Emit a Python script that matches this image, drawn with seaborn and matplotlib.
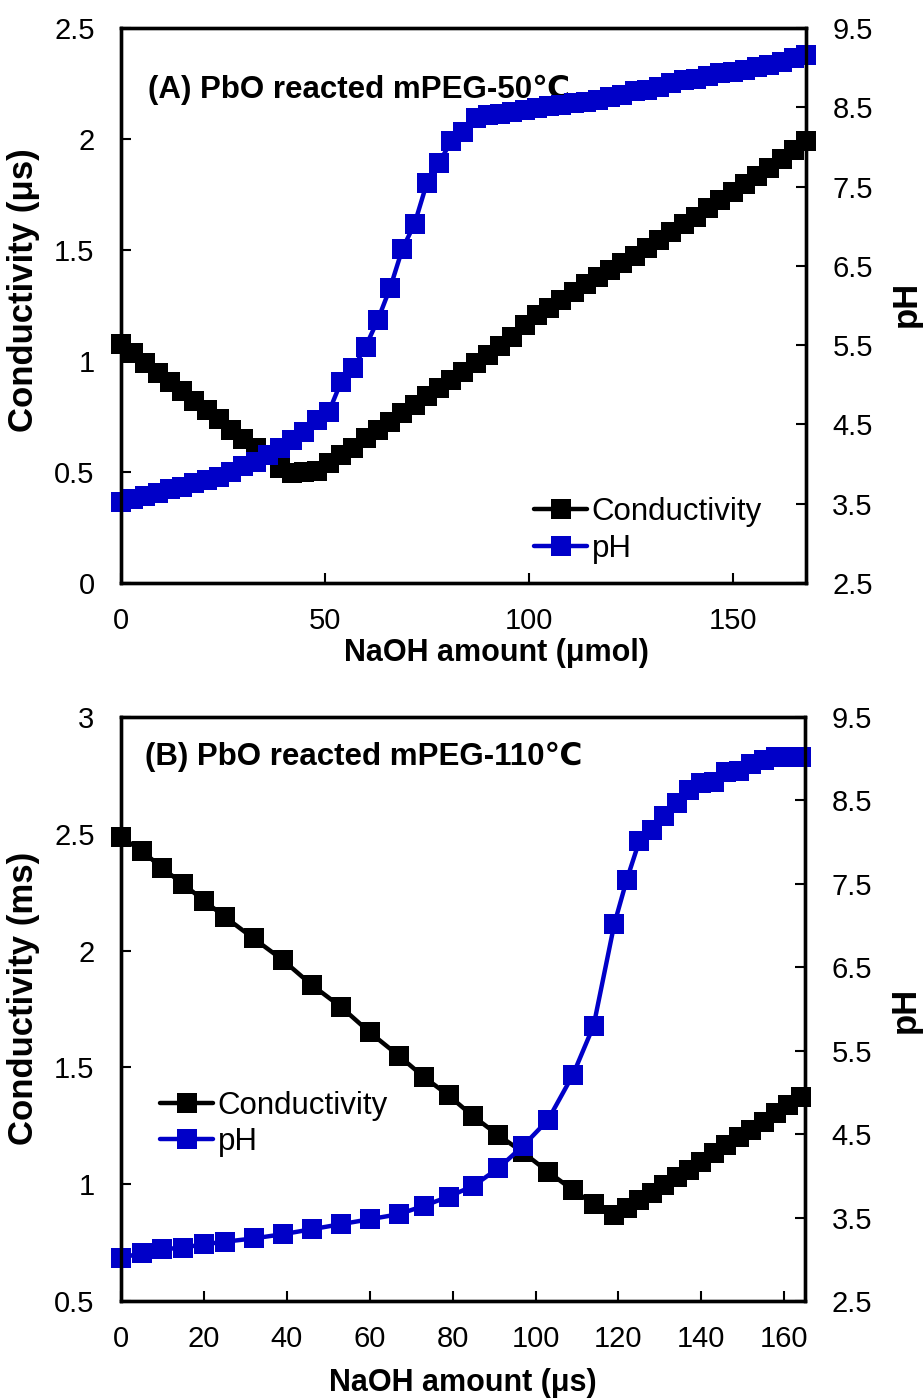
import matplotlib
matplotlib.use("Agg")
import matplotlib.pyplot as plt
import seaborn as sns
from matplotlib.ticker import FuncFormatter

# ---------------- data ----------------
# Panel A: PbO reacted mPEG-50C
naoh_a = [0, 3, 6, 9, 12, 15, 18, 21, 24, 27, 30, 33, 36, 39, 42, 45, 48, 51, 54, 57,
          60, 63, 66, 69, 72, 75, 78, 81, 84, 87, 90, 93, 96, 99, 102, 105, 108, 111, 114, 117,
          120, 123, 126, 129, 132, 135, 138, 141, 144, 147, 150, 153, 156, 159, 162, 165, 168]
cond_a = [1.077, 1.036, 0.99, 0.946, 0.905, 0.865, 0.82, 0.78, 0.74, 0.69,
          0.65, 0.61, 0.575, 0.52, 0.495, 0.50, 0.505, 0.54, 0.577, 0.61,
          0.655, 0.69, 0.725, 0.765, 0.80, 0.84, 0.88, 0.915, 0.95, 0.99,
          1.027, 1.067, 1.11, 1.16, 1.205, 1.24, 1.275, 1.31, 1.345, 1.38,
          1.41, 1.44, 1.475, 1.51, 1.545, 1.58, 1.615, 1.65, 1.69, 1.725,
          1.76, 1.795, 1.835, 1.87, 1.91, 1.95, 1.99]
ph_a = [3.52, 3.56, 3.60, 3.64, 3.68, 3.71, 3.76, 3.80, 3.84, 3.90,
        3.97, 4.03, 4.12, 4.20, 4.30, 4.40, 4.55, 4.66, 5.04, 5.21,
        5.48, 5.82, 6.22, 6.71, 7.03, 7.54, 7.80, 8.07, 8.19, 8.36,
        8.40, 8.42, 8.44, 8.47, 8.49, 8.51, 8.53, 8.55, 8.57, 8.59,
        8.63, 8.65, 8.70, 8.72, 8.76, 8.80, 8.84, 8.86, 8.90, 8.93,
        8.95, 8.97, 9.01, 9.03, 9.07, 9.12, 9.16]

# Panel B: PbO reacted mPEG-110C
naoh_b = [0, 5, 10, 15, 20, 25, 32, 39, 46, 53, 60, 67, 73, 79, 85, 91, 97, 103, 109, 114,
          119, 122, 125, 128, 131, 134, 137, 140, 143, 146, 149, 152, 155, 158, 161, 164]
cond_b = [2.485, 2.428, 2.352, 2.285, 2.214, 2.145, 2.052, 1.96, 1.853, 1.76,
          1.65, 1.55, 1.46, 1.38, 1.29, 1.21, 1.136, 1.053, 0.975, 0.915,
          0.868, 0.897, 0.932, 0.961, 0.997, 1.032, 1.061, 1.096, 1.132, 1.168,
          1.203, 1.232, 1.268, 1.303, 1.339, 1.375]
ph_b = [3.01, 3.08, 3.12, 3.14, 3.18, 3.21, 3.25, 3.30, 3.36, 3.42,
        3.48, 3.54, 3.64, 3.75, 3.88, 4.09, 4.36, 4.67, 5.21, 5.80,
        7.02, 7.55, 8.01, 8.15, 8.31, 8.47, 8.62, 8.71, 8.72, 8.84,
        8.85, 8.94, 8.98, 9.02, 9.02, 9.02]

xticks_a = [0, 50, 100, 150]
xticks_b = [0, 20, 40, 60, 80, 100, 120, 140, 160]
yticks_a = [0, 0.5, 1, 1.5, 2, 2.5]
yticks_b = [0.5, 1, 1.5, 2, 2.5, 3]
ph_ticks = [2.5, 3.5, 4.5, 5.5, 6.5, 7.5, 8.5, 9.5]

series_names = ["Conductivity", "pH"]
title_a = "(A) PbO reacted mPEG-50\u2103"
title_b = "(B) PbO reacted mPEG-110\u2103"
xlabel_a = "NaOH amount (\u03bcmol)"
xlabel_b = "NaOH amount (\u03bcs)"
ylabel_a = "Conductivity (\u03bcs)"
ylabel_b = "Conductivity (ms)"
ylabel_r = "pH"

# ---------------- style ----------------
sns.set_theme(style="white")
plt.rcParams["font.family"] = ["Liberation Sans", "DejaVu Sans"]
plt.rcParams["axes.linewidth"] = 2.4
plt.rcParams["axes.edgecolor"] = "black"
plt.rcParams["text.color"] = "black"
plt.rcParams["axes.labelcolor"] = "black"
plt.rcParams["xtick.color"] = "black"
plt.rcParams["ytick.color"] = "black"

BLUE = "#0000C8"
TICK_FS = 21
LAB_FS = 22
YLAB_FS = 25
TITLE_FS = 22.5
LEG_FS = 22.5
MS = 14
LW = 3.2

fmt = FuncFormatter(lambda v, p: "{:g}".format(v))

fig = plt.figure(figsize=(9.23, 13.98), dpi=100)
fig.patch.set_facecolor("white")


def make_panel(rect, x, cond, ph, xticks, yticks, xlim, ylim, title, title_pos,
               xlabel, xlabel_pos, ylabel, ylabel_y, ph_y, leg_anchor):
    ax = fig.add_axes(rect)
    ax2 = ax.twinx()
    sns.lineplot(x=x, y=cond, ax=ax, color="black", marker="s", markersize=MS,
                 markeredgewidth=0, linewidth=LW, clip_on=False, estimator=None)
    sns.lineplot(x=x, y=ph, ax=ax2, color=BLUE, marker="s", markersize=MS,
                 markeredgewidth=0, linewidth=LW, clip_on=False, estimator=None)
    ax.set_xlim(*xlim)
    ax.set_ylim(*ylim)
    ax2.set_ylim(2.5, 9.5)
    ax.set_xticks(xticks)
    ax.set_yticks(yticks)
    ax2.set_yticks(ph_ticks)
    for a in (ax, ax2):
        a.xaxis.set_major_formatter(fmt)
        a.yaxis.set_major_formatter(fmt)
        for s in a.spines.values():
            s.set_linewidth(2.4)
            s.set_color("black")
            s.set_visible(True)
    ax.tick_params(axis="x", direction="in", length=7, width=1.5, pad=17,
                   labelsize=TICK_FS, colors="black", bottom=True, top=False)
    ax.tick_params(axis="y", direction="in", length=7, width=1.5, pad=19,
                   labelsize=TICK_FS, colors="black", left=True, right=False)
    ax2.tick_params(axis="y", direction="in", length=7, width=1.5, pad=19,
                    labelsize=TICK_FS, colors="black", right=True, left=False)
    ax.set_xlabel(xlabel, fontsize=LAB_FS, fontweight="bold", color="black")
    ax.xaxis.set_label_coords(*xlabel_pos)
    ax.set_ylabel(ylabel, fontsize=YLAB_FS, fontweight="bold", color="black")
    ax.yaxis.set_label_coords(-0.118, ylabel_y)
    ax2.set_ylabel(ylabel_r, fontsize=YLAB_FS, fontweight="bold", color="black")
    ax2.yaxis.set_label_coords(1.123, ph_y)
    ax.text(title_pos[0], title_pos[1], title, transform=ax.transAxes,
            fontsize=TITLE_FS, fontweight="bold", ha="left", va="baseline",
            color="black")
    handles = [ax.lines[0], ax2.lines[0]]
    if ax.get_legend() is not None:
        ax.get_legend().remove()
    if ax2.get_legend() is not None:
        ax2.get_legend().remove()
    leg = ax2.legend(handles, series_names, loc="center left", bbox_to_anchor=leg_anchor,
                     frameon=False, fontsize=LEG_FS, handlelength=1.7, handletextpad=0.15,
                     labelspacing=0.2, borderpad=0, borderaxespad=0)
    for t in leg.get_texts():
        t.set_color("black")
    return ax, ax2


make_panel([0.1311, 0.5830, 0.7421, 0.3970], naoh_a, cond_a, ph_a, xticks_a, yticks_a,
           (0, 168), (0, 2.5), title_a, (0.039, 0.874),
           xlabel_a, (0.548, -0.100), ylabel_a, 0.528, 0.503, (0.603, 0.0946))
make_panel([0.1311, 0.0694, 0.7411, 0.4177], naoh_b, cond_b, ph_b, xticks_b, yticks_b,
           (0, 165), (0.5, 3.0), title_b, (0.035, 0.918),
           xlabel_b, (0.5, -0.115), ylabel_b, 0.519, 0.498, (0.057, 0.303))

fig.savefig("out.png", dpi=100, facecolor="white")
